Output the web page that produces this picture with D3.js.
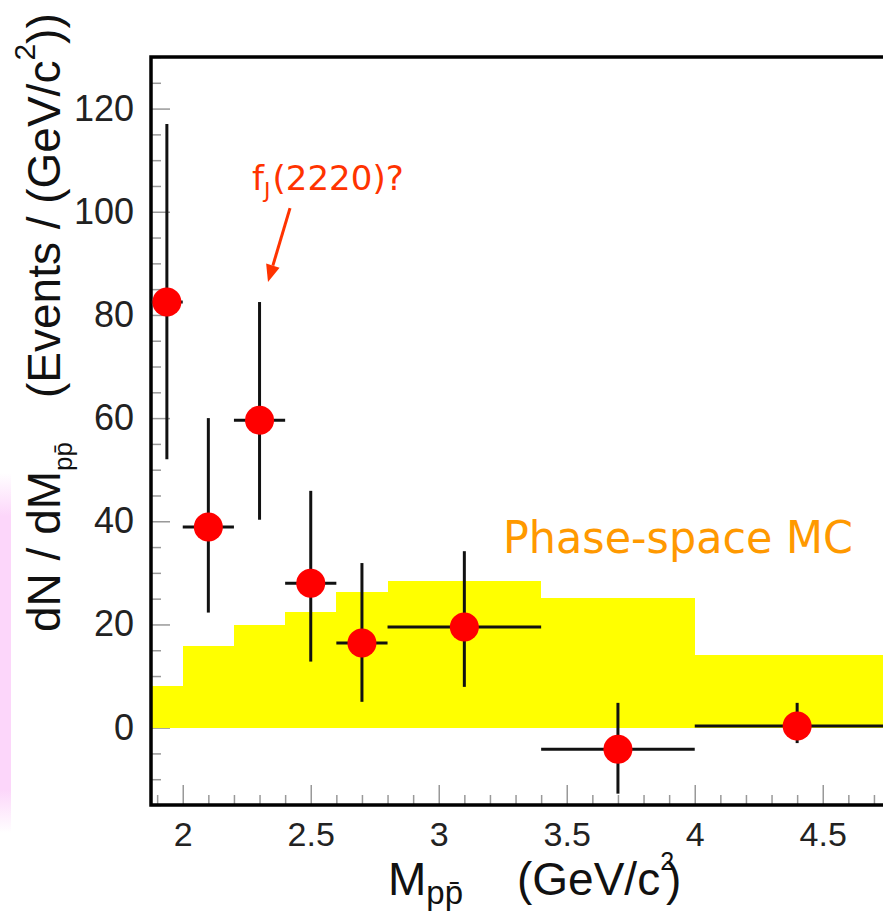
<!DOCTYPE html>
<html>
<head>
<meta charset="utf-8">
<script src="https://cdn.jsdelivr.net/npm/d3@7"></script>
<style>
  body { margin: 0; background: #fff; }
  svg { display: block; }
</style>
</head>
<body>
<div id="chart"></div>
<script>
// values
const binEdges = [1.876, 2.0, 2.2, 2.4, 2.6, 2.8, 3.4, 4.0, 4.8];
const mcCounts = [8.0, 15.9, 19.8, 22.5, 26.2, 28.5, 25.2, 14.0];

const massCenters = [1.938, 2.1, 2.3, 2.5, 2.7, 3.1, 3.7, 4.4];
const events = [82.5, 38.9, 59.6, 28.0, 16.4, 19.5, -4.2, 0.3];
const errHigh = [117, 60, 82.5, 45.9, 31.9, 34.2, 4.8, 4.8];
const errLow = [52, 22.3, 40.3, 12.8, 5.0, 7.9, -12.8, -3.0];

const xTicks = [2, 2.5, 3, 3.5, 4, 4.5];
const yTicks = [0, 20, 40, 60, 80, 100, 120];

const W = 883, H = 916;
const font = "'Liberation Sans', Arial, sans-serif";
const handFont = "'DejaVu Sans', sans-serif";

const x = d3.scaleLinear()
    .domain([1.876, 4.8])
    .range([151, 151 + (4.8 - 1.876) * 256]);

const y = d3.scaleLinear()
    .domain([-15, 130])
    .range([805, 57]);

const svg = d3.select("#chart")
    .append("svg")
    .attr("width", W)
    .attr("height", H);

// pink strip on the left edge
const grad = svg.append("defs").append("linearGradient")
    .attr("id", "pink")
    .attr("x1", 0).attr("y1", 0).attr("x2", 0).attr("y2", 1);
grad.append("stop").attr("offset", "0%").attr("stop-color", "#fcd6fa").attr("stop-opacity", 0);
grad.append("stop").attr("offset", "12%").attr("stop-color", "#fcd6fa").attr("stop-opacity", 1);
grad.append("stop").attr("offset", "88%").attr("stop-color", "#fcd6fa").attr("stop-opacity", 1);
grad.append("stop").attr("offset", "100%").attr("stop-color", "#fcd6fa").attr("stop-opacity", 0);

svg.append("rect")
    .attr("x", 0).attr("y", 473)
    .attr("width", 11).attr("height", 360)
    .attr("fill", "url(#pink)");

// minor y ticks
const yMinor = d3.range(-15, 131, 5).filter(d => d % 20 !== 0);
svg.append("g")
    .attr("transform", `translate(${x(1.876)},0)`)
    .call(d3.axisLeft(y).tickValues(yMinor).tickSize(-10).tickFormat(""))
    .call(g => g.select(".domain").remove())
    .selectAll("line")
    .attr("stroke", "#999")
    .attr("stroke-width", 1.5);

// major y ticks + labels
const yAxis = svg.append("g")
    .attr("transform", `translate(${x(1.876)},0)`)
    .call(d3.axisLeft(y).tickValues(yTicks).tickSize(-19).tickPadding(17));
yAxis.select(".domain").remove();
yAxis.selectAll("line").attr("stroke", "#999").attr("stroke-width", 1.5);
yAxis.selectAll("text")
    .style("font-family", font)
    .style("font-size", "36px")
    .attr("fill", "#222");

// minor x ticks
const xMinor = d3.range(19, 48).map(d => d / 10).filter(d => Math.abs(d * 2 - Math.round(d * 2)) > 1e-6);
svg.append("g")
    .attr("transform", `translate(0,${y(-15)})`)
    .call(d3.axisBottom(x).tickValues(xMinor).tickSize(-10).tickFormat(""))
    .call(g => g.select(".domain").remove())
    .selectAll("line")
    .attr("stroke", "#999")
    .attr("stroke-width", 1.5);

// major x ticks + labels
const xAxis = svg.append("g")
    .attr("transform", `translate(0,${y(-15)})`)
    .call(d3.axisBottom(x).tickValues(xTicks).tickSize(-20).tickPadding(17).tickFormat(d3.format("")));
xAxis.select(".domain").remove();
xAxis.selectAll("line").attr("stroke", "#999").attr("stroke-width", 1.5);
xAxis.selectAll("text")
    .style("font-family", font)
    .style("font-size", "34px")
    .attr("fill", "#222");

// phase-space MC histogram
svg.selectAll(".mc")
    .data(mcCounts)
    .enter().append("rect")
    .attr("class", "mc")
    .attr("x", (d, i) => x(binEdges[i]))
    .attr("width", (d, i) => x(binEdges[i + 1]) - x(binEdges[i]))
    .attr("y", d => y(d))
    .attr("height", d => y(0) - y(d))
    .attr("fill", "#ffff00")
    .attr("shape-rendering", "crispEdges");

// frame
svg.append("rect")
    .attr("x", x(1.876))
    .attr("y", y(130))
    .attr("width", x(4.8) - x(1.876))
    .attr("height", y(-15) - y(130))
    .attr("fill", "none")
    .attr("stroke", "#000")
    .attr("stroke-width", 3.5);

// error bars
const pts = massCenters.map((m, i) => ({
    m: m, v: events[i], lo: errLow[i], hi: errHigh[i],
    x0: binEdges[i], x1: binEdges[i + 1]
}));

svg.selectAll(".vbar")
    .data(pts)
    .enter().append("line")
    .attr("class", "vbar")
    .attr("x1", d => x(d.m)).attr("x2", d => x(d.m))
    .attr("y1", d => y(d.hi)).attr("y2", d => y(d.lo))
    .attr("stroke", "#111")
    .attr("stroke-width", 3);

svg.selectAll(".hbar")
    .data(pts)
    .enter().append("line")
    .attr("class", "hbar")
    .attr("x1", d => x(d.x0)).attr("x2", d => x(d.x1))
    .attr("y1", d => y(d.v)).attr("y2", d => y(d.v))
    .attr("stroke", "#111")
    .attr("stroke-width", 3);

svg.selectAll(".dot")
    .data(pts)
    .enter().append("circle")
    .attr("class", "dot")
    .attr("cx", d => x(d.m))
    .attr("cy", d => y(d.v))
    .attr("r", 14.5)
    .attr("fill", "#ff0000");

// y axis title
const yTitle = svg.append("text")
    .attr("transform", "translate(60,632) rotate(-90)")
    .style("font-family", font)
    .style("font-size", "46px")
    .attr("fill", "#111");
yTitle.append("tspan").text("dN / dM");
yTitle.append("tspan").style("font-size", "26px").attr("dy", 12).text("pp\u0304");
yTitle.append("tspan").attr("dy", -12).attr("dx", 44).text("(Events / (GeV/c");
yTitle.append("tspan").style("font-size", "30px").attr("dy", -25).text("2");
yTitle.append("tspan").attr("dy", 25).text("))");

// x axis title
const xTitle = svg.append("text")
    .attr("x", 388)
    .attr("y", 895)
    .style("font-family", font)
    .style("font-size", "46px")
    .attr("fill", "#111");
xTitle.append("tspan").text("M");
xTitle.append("tspan").style("font-size", "33px").attr("dy", 9).text("pp\u0304");
xTitle.append("tspan").attr("x", 517).attr("dy", -9).text("(GeV/c");
xTitle.append("tspan").style("font-size", "25px").attr("dy", -25).text("2");
xTitle.append("tspan").attr("dx", -8).attr("dy", 25).text(")");

// annotation: f_J(2220)? with arrow
const ann = svg.append("text")
    .attr("x", x(2.271))
    .attr("y", y(104.2))
    .style("font-family", handFont)
    .style("font-size", "34px")
    .attr("fill", "#ff3300");
ann.append("tspan").text("f");
ann.append("tspan").style("font-size", "22px").attr("dy", 8).text("J");
ann.append("tspan").attr("dy", -8).attr("dx", 2).text("(2220)?");

const tail = [x(2.419), y(100.7)];
const tip = [x(2.333), y(86.4)];
const ang = Math.atan2(tip[1] - tail[1], tip[0] - tail[0]);
const headLen = 17, headW = 7;
const base = [tip[0] - headLen * Math.cos(ang), tip[1] - headLen * Math.sin(ang)];
svg.append("line")
    .attr("x1", tail[0]).attr("y1", tail[1])
    .attr("x2", base[0]).attr("y2", base[1])
    .attr("stroke", "#ff3300")
    .attr("stroke-width", 3);
svg.append("polygon")
    .attr("points", [
        tip,
        [base[0] + headW * Math.sin(ang), base[1] - headW * Math.cos(ang)],
        [base[0] - headW * Math.sin(ang), base[1] + headW * Math.cos(ang)]
    ].map(p => p.join(",")).join(" "))
    .attr("fill", "#ff3300");

// phase-space label
svg.append("text")
    .attr("x", x(3.251))
    .attr("y", y(33.8))
    .attr("textLength", 350)
    .attr("lengthAdjust", "spacingAndGlyphs")
    .style("font-family", handFont)
    .style("font-size", "44px")
    .attr("fill", "#ff9900")
    .text("Phase-space MC");
</script>
</body>
</html>
